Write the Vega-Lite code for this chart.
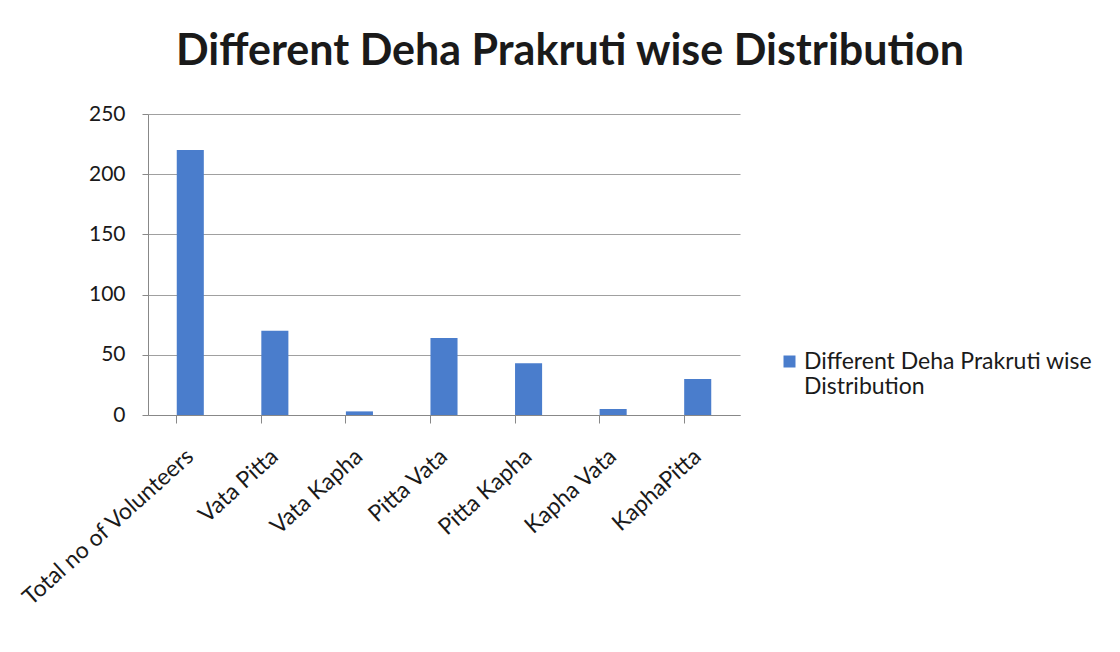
{
  "$schema": "https://vega.github.io/schema/vega-lite/v6.json",
  "autosize": {"type": "none"},
  "padding": {"left": 148, "top": 114, "right": 380, "bottom": 237},
  "width": 592,
  "height": 301,
  "background": "white",
  "config": {
    "font": "Lato",
    "view": {"stroke": null}
  },
  "title": {
    "text": "Different Deha Prakruti wise Distribution",
    "fontSize": 43,
    "fontWeight": "bold",
    "font": "Lato",
    "color": "#1a1a1a",
    "anchor": "middle",
    "dx": 126,
    "offset": 29
  },
  "data": {
    "values": [
      {"category": "Total no of Volunteers", "value": 220, "series": "Different Deha Prakruti wise Distribution"},
      {"category": "Vata Pitta", "value": 70, "series": "Different Deha Prakruti wise Distribution"},
      {"category": "Vata Kapha", "value": 3, "series": "Different Deha Prakruti wise Distribution"},
      {"category": "Pitta Vata", "value": 64, "series": "Different Deha Prakruti wise Distribution"},
      {"category": "Pitta Kapha", "value": 43, "series": "Different Deha Prakruti wise Distribution"},
      {"category": "Kapha Vata", "value": 5, "series": "Different Deha Prakruti wise Distribution"},
      {"category": "KaphaPitta", "value": 30, "series": "Different Deha Prakruti wise Distribution"}
    ]
  },
  "mark": {"type": "bar", "color": "#4a7dcc"},
  "encoding": {
    "x": {
      "field": "category",
      "type": "nominal",
      "sort": null,
      "scale": {"paddingInner": 0.68, "paddingOuter": 0.34},
      "axis": {
        "title": null,
        "labelAngle": -42,
        "labelAlign": "right",
        "labelBaseline": "middle",
        "labelFontSize": 23,
        "labelColor": "#1a1a1a",
        "labelPadding": 30,
        "labelLimit": 400,
        "labelOverlap": false,
        "bandPosition": 0,
        "tickSize": 8,
        "tickColor": "#888888",
        "domainColor": "#888888",
        "grid": false
      }
    },
    "y": {
      "field": "value",
      "type": "quantitative",
      "scale": {"domain": [0, 250]},
      "axis": {
        "title": null,
        "values": [0, 50, 100, 150, 200, 250],
        "labelFontSize": 21,
        "labelColor": "#1a1a1a",
        "labelPadding": 17,
        "tickSize": 6,
        "tickColor": "#888888",
        "domainColor": "#888888",
        "gridColor": "#888888",
        "gridOpacity": 0.8
      }
    },
    "color": {
      "field": "series",
      "type": "nominal",
      "scale": {"range": ["#4a7dcc"]},
      "legend": {
        "title": null,
        "orient": "none",
        "legendX": 630,
        "legendY": 236,
        "symbolType": "square",
        "symbolSize": 144,
        "symbolStrokeWidth": 0,
        "labelFontSize": 23,
        "labelOffset": 3,
        "labelColor": "#1a1a1a",
        "labelLimit": 400,
        "labelExpr": "['Different Deha Prakruti wise', 'Distribution']"
      }
    }
  }
}
